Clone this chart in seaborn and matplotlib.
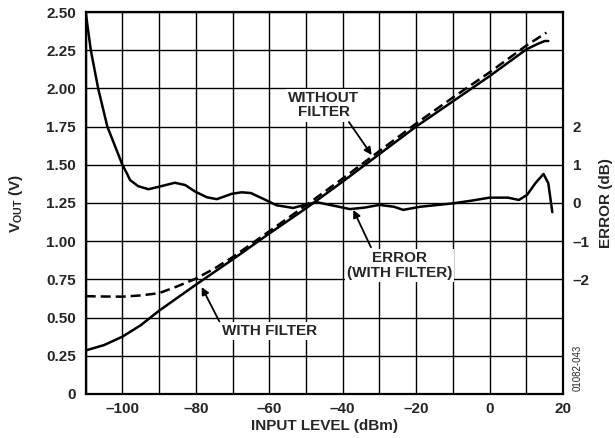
import matplotlib
matplotlib.use("Agg")
import matplotlib.pyplot as plt
import pandas as pd
import seaborn as sns

# input level (dBm) vs VOUT (V), with filter
with_filter_x = [-110, -105, -100, -95, -90, -85, -80, -70, -60, -50, -40, -30, -20, -10, 0, 10, 13, 15, 16]
with_filter_v = [0.285, 0.32, 0.375, 0.45, 0.545, 0.63, 0.715, 0.88, 1.05, 1.215, 1.39, 1.57, 1.75, 1.915, 2.08, 2.255, 2.29, 2.31, 2.31]

# without filter (dashed)
without_filter_x = [-110, -105, -100, -95, -90, -85, -80, -75, -70, -60, -50, -40, -30, -20, -10, 0, 10, 15.5]
without_filter_v = [0.64, 0.638, 0.637, 0.645, 0.66, 0.705, 0.755, 0.82, 0.895, 1.065, 1.235, 1.41, 1.59, 1.77, 1.94, 2.105, 2.28, 2.365]

# error (dB), with filter
error_x = [-110, -108.6, -106.6, -104.1, -100, -98.8, -97.9, -95.7, -92.9, -90.7, -85.7, -82.9, -80.2, -77.0, -74.3,
           -70.2, -67.5, -65, -61, -58, -53.5, -50, -47, -43, -38, -34, -30, -26, -23.5, -19, -10, -5, 0, 5, 8,
           10.2, 12.5, 14.7, 16.0, 17.1]
error_db = [5.0, 4.0, 3.0, 2.0, 1.0, 0.78, 0.6, 0.44, 0.36, 0.41, 0.53, 0.47, 0.30, 0.15, 0.10,
            0.24, 0.28, 0.26, 0.08, -0.06, -0.13, -0.04, 0.02, -0.06, -0.16, -0.12, -0.05, -0.1, -0.18, -0.1, -0.01, 0.06, 0.14, 0.14, 0.08,
            0.21, 0.52, 0.76, 0.52, -0.24]

x_ticks = [-100, -80, -60, -40, -20, 0, 20]
x_labels = ["\u2013100", "\u201380", "\u201360", "\u201340", "\u201320", "0", "20"]
v_ticks = [0, 0.25, 0.5, 0.75, 1.0, 1.25, 1.5, 1.75, 2.0, 2.25, 2.5]
v_labels = ["0", "0.25", "0.50", "0.75", "1.00", "1.25", "1.50", "1.75", "2.00", "2.25", "2.50"]
err_ticks = [-2, -1, 0, 1, 2]
err_labels = ["\u20132", "\u20131", "0", "1", "2"]

sns.set_style("white")
plt.rcParams["font.family"] = ["Liberation Sans", "DejaVu Sans"]
plt.rcParams["font.weight"] = "bold"
plt.rcParams["mathtext.fontset"] = "custom"
plt.rcParams["mathtext.rm"] = "Liberation Sans:bold"
plt.rcParams["mathtext.bf"] = "Liberation Sans:bold"

FS = 11

df_w = pd.DataFrame({"x": with_filter_x, "v": with_filter_v})
df_wo = pd.DataFrame({"x": without_filter_x, "v": without_filter_v})
df_e = pd.DataFrame({"x": error_x, "db": error_db})

fig = plt.figure(figsize=(6.15, 4.38), dpi=100)
ax = fig.add_axes([0.1393, 0.1005, 0.7761, 0.8721])

ax.set_xlim(-110, 20)
ax.set_ylim(0, 2.5)
ax.set_xticks(range(-110, 21, 10), minor=True)
ax.set_xticks(x_ticks)
ax.set_xticklabels(x_labels)
ax.set_yticks(v_ticks)
ax.set_yticklabels(v_labels)
ax.grid(True, which="both", color="black", linewidth=1.0)
ax.tick_params(which="both", length=0, labelsize=FS)
ax.tick_params(axis="y", pad=7)
ax.tick_params(axis="x", pad=6)
for lbl in ax.get_xticklabels() + ax.get_yticklabels():
    lbl.set_fontweight("bold")
for sp in ax.spines.values():
    sp.set_linewidth(1.6)
    sp.set_color("black")
ax.set_axisbelow(True)

sns.lineplot(data=df_w, x="x", y="v", ax=ax, color="black", linewidth=1.8, sort=False)
sns.lineplot(data=df_wo, x="x", y="v", ax=ax, color="black", linewidth=1.8, sort=False, linestyle=(0, (4, 2)))
ax.set_xlabel("INPUT LEVEL (dBm)", fontsize=FS, fontweight="bold", labelpad=2)
ax.set_ylabel("")

ax2 = ax.twinx()
ax2.set_ylim(-5, 5)
ax2.set_yticks(err_ticks)
ax2.set_yticklabels(err_labels)
ax2.tick_params(length=0, labelsize=FS, pad=7)
for lbl in ax2.get_yticklabels():
    lbl.set_fontweight("bold")
for sp in ax2.spines.values():
    sp.set_visible(False)
sns.lineplot(data=df_e, x="x", y="db", ax=ax2, color="black", linewidth=1.8, sort=False)
ax2.set_ylabel("")
ax2.set_xlabel("")

fig.text(16 / 615, 0.535, r"V$_{\mathrm{OUT}}$ (V)", rotation=90, fontsize=FS, fontweight="bold",
         ha="center", va="center")
fig.text(606 / 615, 0.537, "ERROR (dB)", rotation=90, fontsize=FS, fontweight="bold",
         ha="center", va="center")

box = dict(facecolor="white", edgecolor="none", pad=1.5)
arrow = dict(arrowstyle="-|>", color="black", lw=1.3, mutation_scale=11, shrinkA=0, shrinkB=0)

ax.text(-45.2, 1.89, "WITHOUT\nFILTER", ha="center", va="center", fontsize=FS,
        fontweight="bold", linespacing=1.05, bbox=box, zorder=5)
ax.annotate("", xy=(-32.1, 1.564), xytext=(-38.3, 1.78), arrowprops=arrow, zorder=5)

ax.text(-24.5, 0.84, "ERROR\n(WITH FILTER)", ha="center", va="center", fontsize=FS,
        fontweight="bold", linespacing=1.05, bbox=box, zorder=5)
ax.annotate("", xy=(-37.1, 1.205), xytext=(-32.3, 0.96), arrowprops=arrow, zorder=5)

ax.text(-60, 0.41, "WITH FILTER", ha="center", va="center", fontsize=FS,
        fontweight="bold", bbox=box, zorder=5)
ax.annotate("", xy=(-78.4, 0.70), xytext=(-73.6, 0.475), arrowprops=arrow, zorder=5)

fig.text(577.5 / 615, 0.16, "01082-043", rotation=90, fontsize=7, fontweight="normal",
         ha="center", va="center")

fig.savefig("out.png", dpi=100)
